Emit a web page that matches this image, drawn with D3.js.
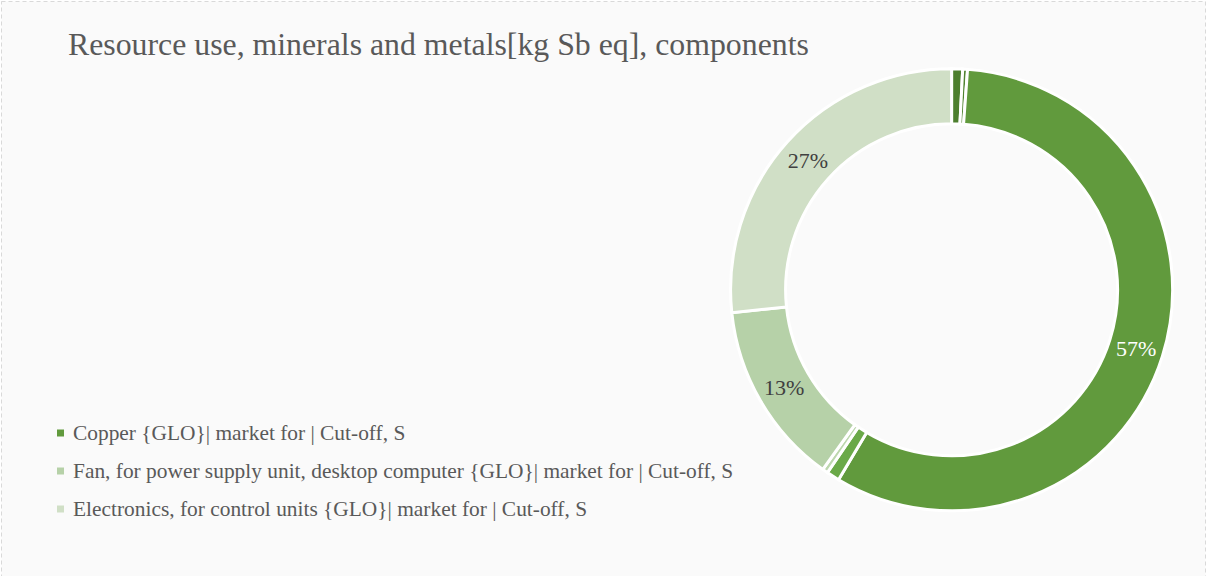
<!DOCTYPE html>
<html>
<head>
<meta charset="utf-8">
<script src="https://cdn.jsdelivr.net/npm/d3@7"></script>
<style>
  html, body { margin: 0; padding: 0; background: #ffffff; }
  svg { display: block; }
</style>
</head>
<body>
<svg id="chart" width="1208" height="576"></svg>
<script>
// Share of resource use (minerals and metals) per component, in %
const categories = [
  "Minor component A",
  "Minor component B",
  "Copper {GLO}| market for | Cut-off, S",
  "Minor component C",
  "Minor component D",
  "Fan, for power supply unit, desktop computer {GLO}| market for | Cut-off, S",
  "Electronics, for control units {GLO}| market for | Cut-off, S"
];
const values = [0.8, 0.35, 57.4, 0.95, 0.4, 13.45, 26.65];
const colors = ["#4d7f2e", "#4f822f", "#619a3d", "#6aa948", "#bcd7ad", "#b6d1a8", "#d0dfc6"];
const legendItems = [2, 5, 6]; // entries listed in the legend
const title = "Resource use, minerals and metals[kg Sb eq], components";

const W = 1208, H = 576;
const svg = d3.select("#chart");

// chart area background and dashed frame
svg.append("rect").attr("x", 0).attr("y", 0).attr("width", W).attr("height", H).attr("fill", "#ffffff");
svg.append("rect")
  .attr("x", 1.5).attr("y", 1.5).attr("width", W - 4).attr("height", H + 10)
  .attr("fill", "#fafafa").attr("stroke", "#d9d9d9").attr("stroke-width", 1)
  .attr("stroke-dasharray", "4,3");

const serif = "'Liberation Serif', 'DejaVu Serif', serif";

svg.append("text")
  .attr("x", 68).attr("y", 55)
  .attr("font-family", serif).attr("font-size", 31.8)
  .attr("fill", "#595959")
  .text(title);

// donut
const cx = 951.6, cy = 289.8, rOuter = 221, rInner = 166;
const total = d3.sum(values);
const pie = d3.pie().sort(null).value(d => d)(values);
const arc = d3.arc().innerRadius(rInner).outerRadius(rOuter);
const g = svg.append("g").attr("transform", `translate(${cx},${cy})`);

g.selectAll("path.slice").data(pie).join("path")
  .attr("class", "slice")
  .attr("d", arc)
  .attr("fill", (d, i) => colors[i])
  .attr("stroke", "#ffffff")
  .attr("stroke-width", 3)
  .attr("stroke-linejoin", "miter");

const pct = d3.format(".0%");
const labelArc = d3.arc().innerRadius((rInner + rOuter) / 2).outerRadius((rInner + rOuter) / 2);
g.selectAll("text.lbl").data(pie.filter(d => d.value / total >= 0.05)).join("text")
  .attr("class", "lbl")
  .attr("transform", d => `translate(${labelArc.centroid(d)})`)
  .attr("text-anchor", "middle")
  .attr("dy", "0.35em")
  .attr("font-family", serif).attr("font-size", 22)
  .attr("fill", d => d.index === 2 ? "#ffffff" : "#404040")
  .text(d => pct(d.value / total));

// legend
const legend = svg.append("g");
const ly = d3.scalePoint().domain(legendItems).range([433, 509]);
legendItems.forEach(i => {
  const y = ly(i);
  legend.append("rect").attr("x", 57).attr("y", y - 3.5).attr("width", 7).attr("height", 7).attr("fill", colors[i]);
  legend.append("text")
    .attr("x", 73).attr("y", y).attr("dy", "0.35em")
    .attr("font-family", serif).attr("font-size", 21.4)
    .attr("fill", "#595959")
    .text(categories[i]);
});
</script>
</body>
</html>
